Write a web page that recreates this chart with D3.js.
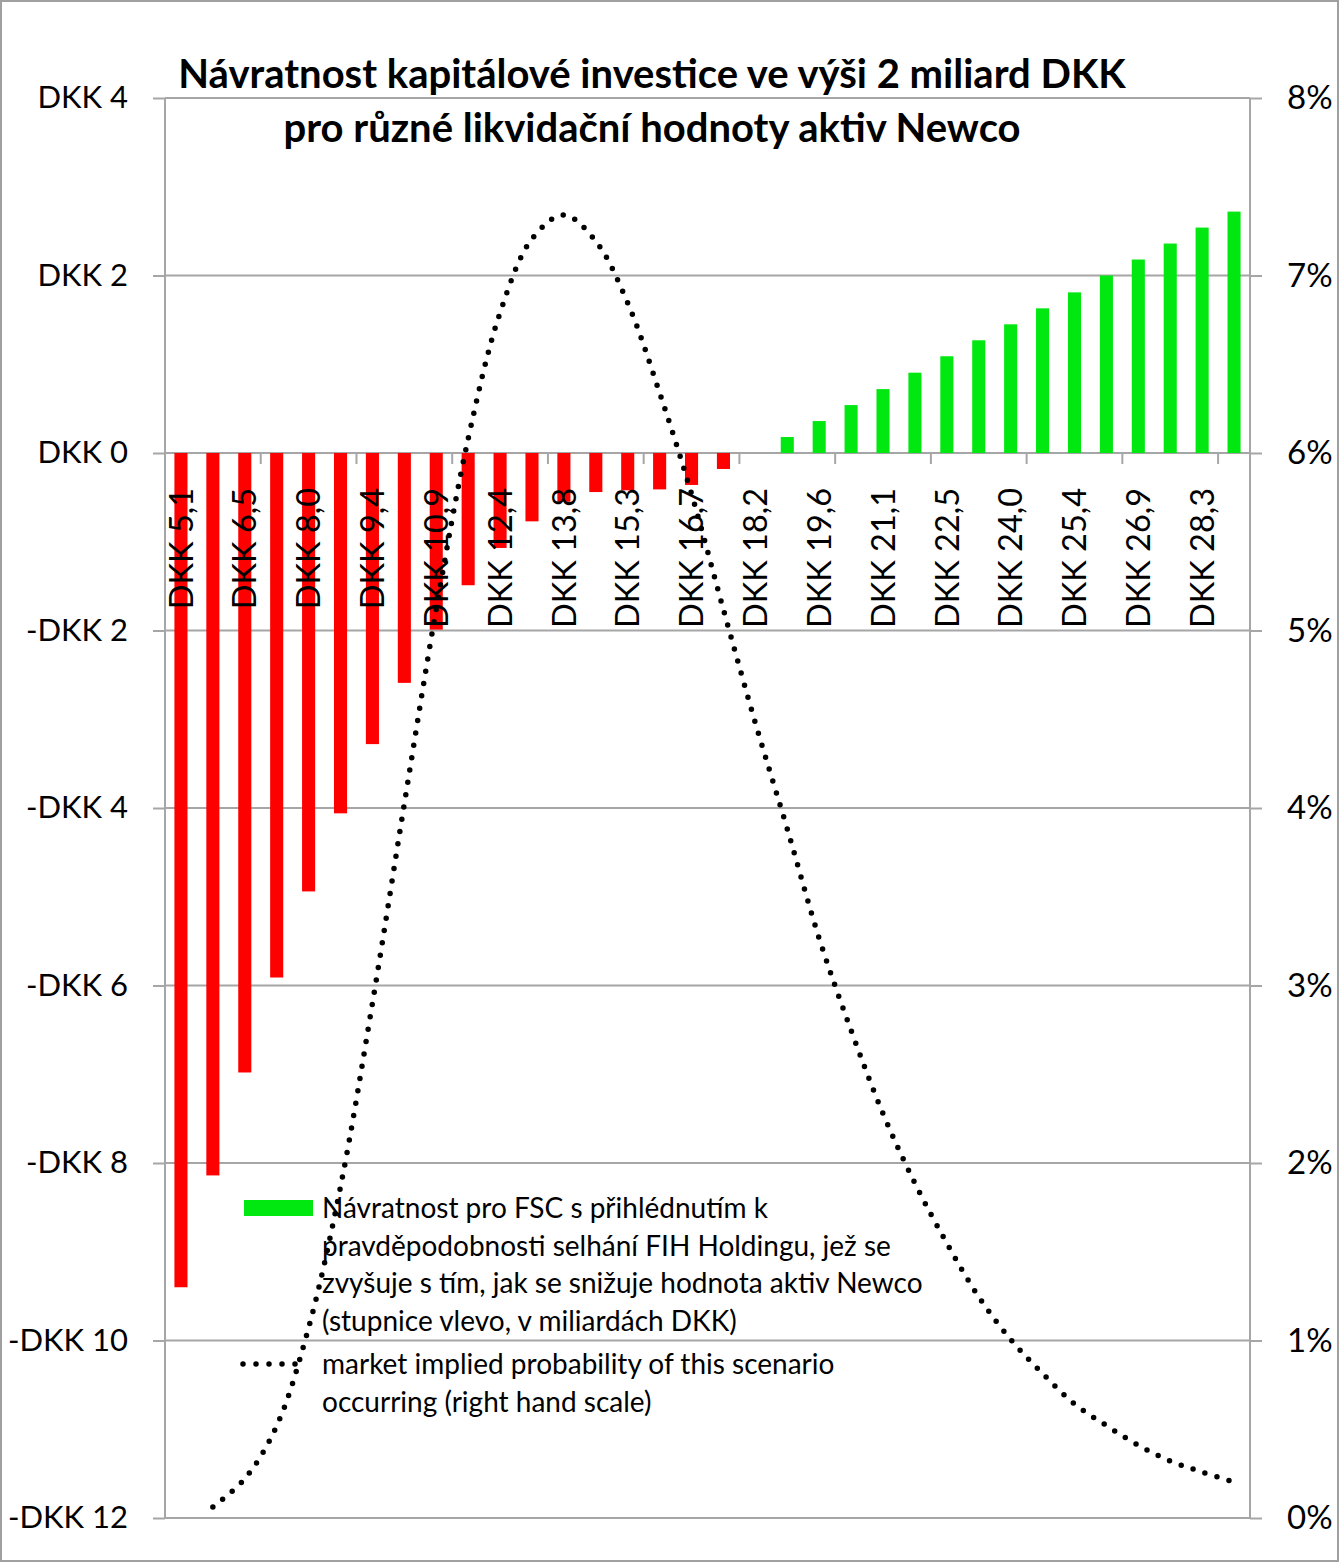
<!DOCTYPE html>
<html><head><meta charset="utf-8">
<script src="https://cdn.jsdelivr.net/npm/d3@7"></script>
<style>
body{margin:0;background:#fff}
svg{display:block}
text{font-family:Lato,"Open Sans",sans-serif;fill:#000}
</style>
</head><body>
<svg id="chart" width="1339" height="1562"></svg>
<script>
// ---------- data ----------
const categories = [
  "DKK 5,1","DKK 5,8","DKK 6,5","DKK 7,3","DKK 8,0","DKK 8,7","DKK 9,4","DKK 10,2",
  "DKK 10,9","DKK 11,6","DKK 12,4","DKK 13,1","DKK 13,8","DKK 14,5","DKK 15,3","DKK 16,0",
  "DKK 16,7","DKK 17,4","DKK 18,2","DKK 18,9","DKK 19,6","DKK 20,3","DKK 21,1","DKK 21,8",
  "DKK 22,5","DKK 23,2","DKK 24,0","DKK 24,7","DKK 25,4","DKK 26,1","DKK 26,9","DKK 27,6",
  "DKK 28,3","DKK 29,0"
];
// return for FSC, billions DKK (left scale)
const returnsBn = [
  -9.40,-8.14,-6.98,-5.91,-4.94,-4.06,-3.28,-2.59,
  -1.99,-1.49,-1.07,-0.77,-0.55,-0.44,-0.42,-0.41,
  -0.36,-0.18,0.00,0.18,0.36,0.54,0.72,0.905,
  1.09,1.27,1.45,1.63,1.81,2.00,2.18,2.36,
  2.54,2.72
];
// market implied probability, % (right scale)
const probabilityPct = [
  null,0.062,0.221,0.519,1.072,1.866,2.900,4.024,
  5.121,6.080,6.790,7.206,7.341,7.193,6.845,6.339,
  5.769,5.117,4.479,3.882,3.265,2.747,2.278,1.886,
  1.548,1.246,1.006,0.814,0.643,0.521,0.410,0.321,
  0.259,0.203
];
const leftTicks = [4,2,0,-2,-4,-6,-8,-10,-12];
const rightTicks = [0,1,2,3,4,5,6,7,8];
const titleLines = [
  "Návratnost kapitálové investice ve výši 2 miliard DKK",
  "pro různé likvidační hodnoty aktiv Newco"
];
const legendBarLines = [
  "Návratnost pro FSC s přihlédnutím k",
  "pravděpodobnosti selhání FIH Holdingu, jež se",
  "zvyšuje s tím, jak se snižuje hodnota aktiv Newco",
  "(stupnice vlevo, v miliardách DKK)"
];
const legendLineLines = [
  "market implied probability of this scenario",
  "occurring (right hand scale)"
];

// ---------- layout ----------
const W = 1339, H = 1562;
const plot = {left:165, right:1250, top:98, bottom:1518};
const gridColor = "#a6a6a6";
const svg = d3.select("#chart");

svg.append("rect").attr("x",1).attr("y",1).attr("width",W-2).attr("height",H-2)
  .attr("fill","#fff").attr("stroke","#a0a0a0").attr("stroke-width",2);

const x = d3.scaleBand().domain(categories).range([plot.left, plot.right])
  .paddingInner(0.59).paddingOuter(0.295);
const step = x.step();
const yL = d3.scaleLinear().domain([-12,4]).range([plot.bottom, plot.top]);
const yR = d3.scaleLinear().domain([0,8]).range([plot.bottom, plot.top]);

// gridlines
svg.append("g").selectAll("line").data(leftTicks).join("line")
  .attr("x1",plot.left).attr("x2",plot.right)
  .attr("y1",d=>yL(d)).attr("y2",d=>yL(d))
  .attr("stroke",gridColor).attr("stroke-width",2);

// vertical axis lines
[plot.left, plot.right].forEach(px=>{
  svg.append("line").attr("x1",px).attr("x2",px).attr("y1",plot.top).attr("y2",plot.bottom)
    .attr("stroke",gridColor).attr("stroke-width",2);
});

// left axis
const fmtL = v => v > 0 ? "DKK " + v : (v === 0 ? "DKK 0" : "-DKK " + Math.abs(v));
const gL = svg.append("g").attr("transform",`translate(${plot.left},0)`)
  .call(d3.axisLeft(yL).tickValues(leftTicks).tickFormat(fmtL).tickSize(12).tickPadding(25));
gL.select(".domain").remove();
gL.selectAll(".tick line").attr("stroke",gridColor).attr("stroke-width",2);
gL.selectAll(".tick text").style("font-size","31px").style("font-family","Lato");

// right axis
const gR = svg.append("g").attr("transform",`translate(${plot.right},0)`)
  .call(d3.axisRight(yR).tickValues(rightTicks).tickFormat(d=>d+"%").tickSize(12).tickPadding(25));
gR.select(".domain").remove();
gR.selectAll(".tick line").attr("stroke",gridColor).attr("stroke-width",2);
gR.selectAll(".tick text").style("font-size","33px").style("font-family","Lato");

// bars
svg.append("g").selectAll("rect").data(categories).join("rect")
  .attr("x",d=>x(d))
  .attr("width",x.bandwidth())
  .attr("y",(d,i)=>yL(Math.max(0,returnsBn[i])))
  .attr("height",(d,i)=>Math.abs(yL(returnsBn[i])-yL(0)))
  .attr("fill",(d,i)=>returnsBn[i] < 0 ? "#ff0000" : "#00e810");

// category axis ticks (every 3rd boundary)
const y0 = yL(0);
const tickIdx = d3.range(0, categories.length+1, 3);
svg.append("g").selectAll("line").data(tickIdx).join("line")
  .attr("x1",k=>plot.left + k*step).attr("x2",k=>plot.left + k*step)
  .attr("y1",y0).attr("y2",y0+11)
  .attr("stroke",gridColor).attr("stroke-width",2);

// category labels (every 2nd)
svg.append("g").selectAll("text").data(categories.filter((d,i)=>i%2===0)).join("text")
  .attr("transform",d=>`translate(${x(d)+x.bandwidth()/2},${y0+35}) rotate(-90)`)
  .attr("text-anchor","end").attr("dy","0.36em")
  .style("font-size","32.5px")
  .text(d=>d);

// probability line
const linePts = categories.map((c,i)=>({c, v:probabilityPct[i]})).filter(d=>d.v!==null);
const line = d3.line().x(d=>x(d.c)+x.bandwidth()/2).y(d=>yR(d.v)).curve(d3.curveCatmullRom.alpha(0.5));
svg.append("path").datum(linePts).attr("d",line)
  .attr("fill","none").attr("stroke","#000").attr("stroke-width",5.5)
  .attr("stroke-linecap","round").attr("stroke-dasharray","0 12.5");

// title
svg.append("g").selectAll("text").data(titleLines).join("text")
  .attr("x",652).attr("y",(d,i)=>88+i*54)
  .attr("text-anchor","middle")
  .style("font-size","40px").style("font-weight","bold")
  .text(d=>d);

// legend
const lg = svg.append("g");
lg.append("rect").attr("x",244).attr("y",1200).attr("width",69).attr("height",16).attr("fill","#00e810");
lg.selectAll("text.a").data(legendBarLines).join("text").attr("class","a")
  .attr("x",322).attr("y",(d,i)=>1218+i*37.5)
  .style("font-size","28px").text(d=>d);
lg.append("line").attr("x1",243).attr("x2",308).attr("y1",1364).attr("y2",1364)
  .attr("stroke","#000").attr("stroke-width",5.5).attr("stroke-linecap","round").attr("stroke-dasharray","0 13");
lg.selectAll("text.b").data(legendLineLines).join("text").attr("class","b")
  .attr("x",322).attr("y",(d,i)=>1374+i*37.5)
  .style("font-size","28px").text(d=>d);
</script>
</body></html>
